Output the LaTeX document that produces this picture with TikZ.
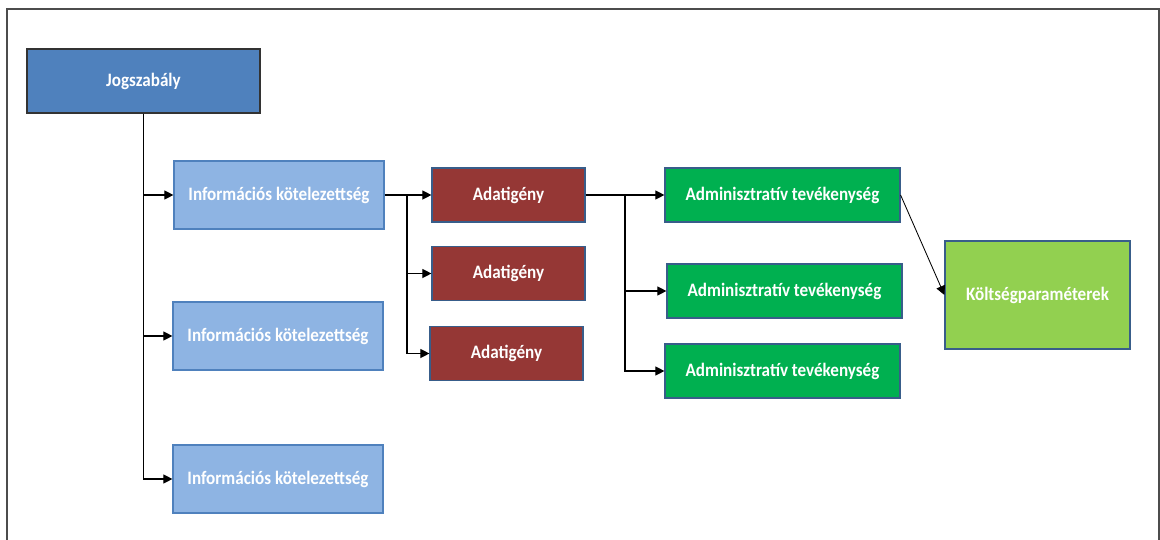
\documentclass[tikz,border=0pt]{standalone}
\usepackage{fontspec}
\setmainfont{Carlito}[FakeStretch=0.9]
\usetikzlibrary{arrows.meta}
\definecolor{jogblue}{HTML}{4F81BD}
\definecolor{infoblue}{HTML}{8EB4E3}
\definecolor{adatred}{HTML}{953735}
\definecolor{admgreen}{HTML}{00B050}
\definecolor{koltgreen}{HTML}{92D050}
\definecolor{edgeblue}{HTML}{385D8A}
\begin{document}
\begin{tikzpicture}[x=0.025cm, y=-0.025cm, >={Triangle[length=6.5pt,width=6.5pt]}, line width=0.9pt]
	\tikzstyle{box}=[draw=edgeblue, line width=0.8pt, text=white, font=\bfseries\fontsize{13.5}{15}\selectfont, inner sep=0pt]
	\tikzstyle{jog}=[box, fill=jogblue, draw=black!80, minimum width=5.825cm, minimum height=1.6cm]
	\tikzstyle{info}=[box, fill=infoblue, draw=jogblue, minimum width=5.25cm, minimum height=1.7cm]
	\tikzstyle{adat}=[box, fill=adatred, minimum width=3.825cm, minimum height=1.35cm]
	\tikzstyle{adm}=[box, fill=admgreen, minimum width=5.875cm, minimum height=1.35cm]
	\tikzstyle{kolt}=[box, fill=koltgreen, minimum width=4.625cm, minimum height=2.7cm]
		\useasboundingbox (0,0) rectangle (1160,540);
		\draw[line width=1.2pt, black!70] (7,540) -- (7,9) -- (1159,9) -- (1159,540);
		
		\node[jog] (jog) at (143.5, 81) {Jogszabály};
		
		\node[info] (info1) at (279, 195) {Információs kötelezettség};
		\node[info] (info2) at (278, 336) {Információs kötelezettség};
		\node[info] (info3) at (278, 479) {Információs kötelezettség};
		
		\node[adat] (adat1) at (508.5, 195) {Adatigény};
		\node[adat] (adat2) at (508.5, 273.5) {Adatigény};
		\node[adat] (adat3) at (506.5, 353.5) {Adatigény};
		
		\node[adm] (adm1) at (782.5, 195) {Adminisztratív tevékenység};
		\node[adm] (adm2) at (784.5, 291) {Adminisztratív tevékenység};
		\node[adm] (adm3) at (782.5, 371) {Adminisztratív tevékenység};
		
		\node[kolt] (kolt) at (1037.5, 295) {Költségparaméterek};
		
		\coordinate (b1) at (407, 195);
		\coordinate (b2) at (625, 195);
		
		%========================================================================
		% Arrows
		\draw[->] (jog.south) |- (info1.west);
		\draw[->] (jog.south) |- (info2.west);
		\draw[->] (jog.south) |- (info3.west);
		
		\draw (info1.east) -- (b1);
		\draw[->] (b1) -- (adat1.west);
		\draw[->] (b1) |- (adat2.west);
		\draw[->] (b1) |- (adat3.west);
		
		\draw (adat1.east) -- (b2);
		\draw[->] (b2) -- (adm1.west);
		\draw[->] (b2) |- (adm2.west);
		\draw[->] (b2) |- (adm3.west);
		
		\draw[->, line width=0.6pt] (adm1.east) -- (kolt.west);
	\end{tikzpicture}
\end{document}
